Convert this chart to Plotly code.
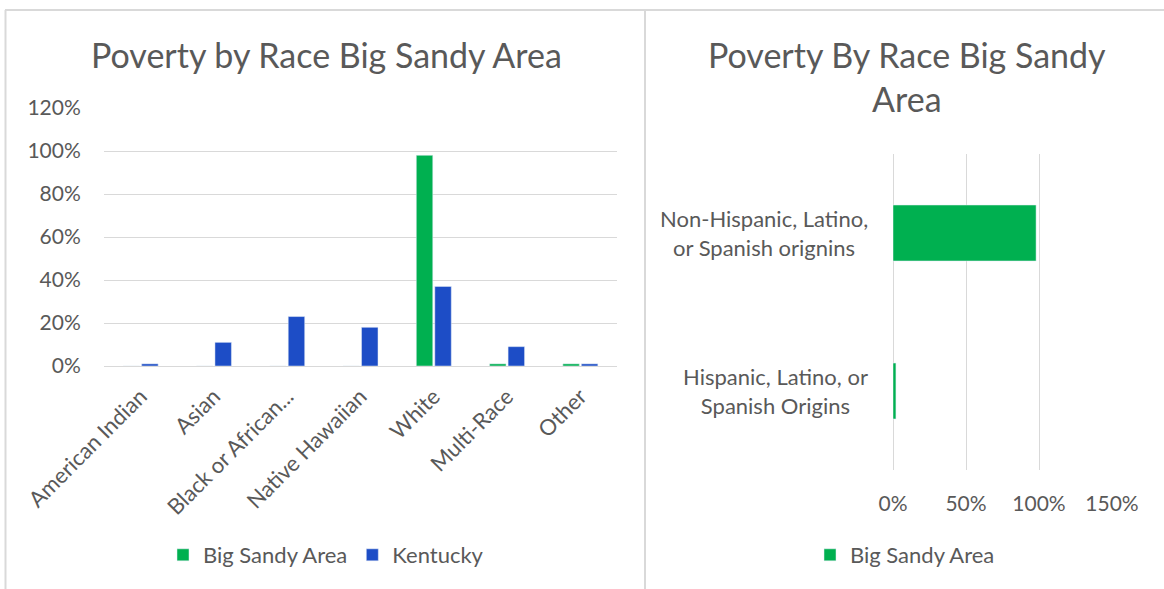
import plotly.graph_objects as go

# ---- data ----
races = ["American Indian", "Asian", "Black or African...", "Native Hawaiian", "White", "Multi-Race", "Other"]
big_sandy = [0.0, 0.0, 0.0, 0.0, 0.98, 0.01, 0.01]
kentucky = [0.01, 0.11, 0.23, 0.18, 0.37, 0.09, 0.01]

ethnicity = ["Hispanic, Latino, or<br>Spanish Origins", "Non-Hispanic, Latino,<br>or Spanish orignins"]
eth_big_sandy = [0.02, 0.98]

left_ticks = [0, 0.2, 0.4, 0.6, 0.8, 1.0, 1.2]
right_ticks = [0, 0.5, 1.0, 1.5]

GREEN = "#00B050"
BLUE = "#1D4DC6"
GRID = "#D9D9D9"
TXT = "#595959"
FONT = "Lato"
W, H = 1164, 589

def px(x):
    return x / W

def py(y):
    return 1 - y / H

fig = go.Figure()
fig.add_trace(go.Bar(x=races, y=big_sandy, name="Big Sandy Area", marker_color=GREEN,
                     xaxis="x", yaxis="y", legend="legend"))
fig.add_trace(go.Bar(x=races, y=kentucky, name="Kentucky", marker_color=BLUE,
                     xaxis="x", yaxis="y", legend="legend"))
fig.add_trace(go.Bar(y=ethnicity, x=eth_big_sandy, orientation="h", name="Big Sandy Area",
                     marker_color=GREEN, xaxis="x2", yaxis="y2", legend="legend2",
                     width=0.354, offset=-0.177))

fig.update_layout(
    width=W, height=H,
    margin=dict(l=0, r=0, t=0, b=0, pad=0, autoexpand=False),
    paper_bgcolor="white", plot_bgcolor="white",
    font=dict(family=FONT, color=TXT, size=21),
    barmode="group", bargap=0.495, bargroupgap=0.11,
    showlegend=True,
    xaxis=dict(domain=[px(104), px(617)], anchor="y", tickangle=-45,
               showgrid=False, showline=False, zeroline=False, automargin=False,
               ticks="outside", ticklen=8, tickcolor="rgba(0,0,0,0)",
               tickfont=dict(size=22, color=TXT)),
    yaxis=dict(domain=[py(366), py(108)], anchor="x", range=[0, 1.2],
               tickvals=left_ticks, tickformat=".0%", automargin=False,
               showgrid=True, gridcolor=GRID, gridwidth=1.3, zeroline=True, zerolinecolor=GRID,
               zerolinewidth=1.3, showline=False,
               ticks="outside", ticklen=18, tickcolor="rgba(0,0,0,0)",
               tickfont=dict(size=21, color=TXT)),
    xaxis2=dict(domain=[px(893), px(1112)], anchor="y2", range=[0, 1.5],
                tickvals=right_ticks, tickformat=".0%", automargin=False,
                showgrid=True, gridcolor=GRID, gridwidth=1.3, zeroline=True, zerolinecolor=GRID,
                zerolinewidth=1.3, showline=False,
                ticks="outside", ticklen=15, tickcolor="rgba(0,0,0,0)",
                tickfont=dict(size=21, color=TXT)),
    yaxis2=dict(domain=[py(470), py(154)], anchor="x2", showticklabels=False, automargin=False,
                showgrid=False, zeroline=False, showline=False, type="category"),
    legend=dict(orientation="h", x=px(326), y=py(555), xanchor="center", yanchor="middle",
                font=dict(size=22, color=TXT), itemwidth=30, traceorder="normal"),
    legend2=dict(orientation="h", x=px(905), y=py(555), xanchor="center", yanchor="middle",
                 font=dict(size=22, color=TXT), itemwidth=30),
)

# category labels for horizontal chart (centered blocks, right-anchored)
for cat in ethnicity:
    fig.add_annotation(x=px(870), xref="paper", y=cat, yref="y2", text=cat,
                       showarrow=False, xanchor="right", align="center",
                       font=dict(size=22, color=TXT))

# titles
fig.add_annotation(x=px(326), y=py(55), xref="paper", yref="paper",
                   text="Poverty by Race Big Sandy Area", showarrow=False,
                   xanchor="center", yanchor="middle", font=dict(size=34, color=TXT))
fig.add_annotation(x=px(907), y=py(76), xref="paper", yref="paper",
                   text="Poverty By Race Big Sandy<br>Area", showarrow=False,
                   xanchor="center", yanchor="middle", align="center",
                   font=dict(size=34, color=TXT))

# chart borders
border = dict(color=GRID, width=2)
fig.add_shape(type="line", xref="paper", yref="paper", x0=px(5), x1=1, y0=py(10), y1=py(10), line=border)
fig.add_shape(type="line", xref="paper", yref="paper", x0=px(5.5), x1=px(5.5), y0=py(10), y1=0, line=border)
fig.add_shape(type="line", xref="paper", yref="paper", x0=px(645), x1=px(645), y0=py(10), y1=0, line=border)

fig.write_html("out.html", config={"displayModeBar": False},
               post_script="document.body.style.margin='0';")
